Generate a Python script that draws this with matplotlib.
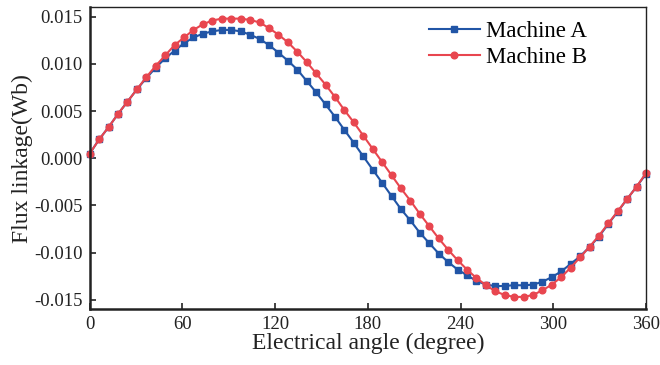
import numpy as np
import matplotlib
matplotlib.use('Agg')
import matplotlib.pyplot as plt

plt.rcParams['font.family'] = ['Liberation Serif', 'DejaVu Serif']

# 60 samples over one electrical period
angle = np.linspace(0, 360, 60)

machine_a = [0.0005, 0.0020, 0.0033, 0.0047, 0.0060, 0.0073, 0.0085, 0.0096, 0.0106, 0.0114,
             0.0122, 0.0128, 0.0132, 0.01345, 0.0136, 0.0136, 0.01345, 0.0131, 0.01265, 0.0120,
             0.0112, 0.01035, 0.0094, 0.0082, 0.0070, 0.0057, 0.0044, 0.0030, 0.00163, 0.0002,
             -0.0012, -0.0026, -0.0040, -0.0054, -0.0066, -0.0079, -0.0090, -0.0101, -0.0110, -0.0118,
             -0.0124, -0.0130, -0.0134, -0.01355, -0.01355, -0.01345, -0.01348, -0.0134, -0.0131, -0.0126,
             -0.0120, -0.0112, -0.0104, -0.0094, -0.0083, -0.00695, -0.00565, -0.0043, -0.0030, -0.00165]

machine_b = [0.0005, 0.0020, 0.0033, 0.0047, 0.0060, 0.0073, 0.0086, 0.0098, 0.0109, 0.0120,
             0.0128, 0.0136, 0.0142, 0.0146, 0.0148, 0.0148, 0.0148, 0.01466, 0.0144, 0.0138,
             0.0131, 0.0123, 0.0113, 0.0102, 0.0090, 0.0078, 0.0065, 0.0051, 0.0038, 0.0024,
             0.0010, -0.0004, -0.0018, -0.0032, -0.0045, -0.0059, -0.0072, -0.0085, -0.0097, -0.0108,
             -0.0118, -0.0127, -0.01345, -0.0141, -0.0145, -0.0147, -0.0147, -0.0145, -0.0140, -0.0134,
             -0.0126, -0.0116, -0.0105, -0.0094, -0.0082, -0.0069, -0.0056, -0.0043, -0.0030, -0.00155]

xticks = [0, 60, 120, 180, 240, 300, 360]
yticks = [-0.015, -0.010, -0.005, 0.000, 0.005, 0.010, 0.015]

fig = plt.figure(figsize=(6.6, 3.65), dpi=100)
ax = fig.add_axes([0.136, 0.153, 0.843, 0.827])

ax.plot(angle, machine_a, color='#2155a6', lw=1.5, marker='s', ms=3.8, label='Machine A', clip_on=False)
ax.plot(angle, machine_b, color='#e8464f', lw=1.5, marker='o', ms=4.8, label='Machine B', clip_on=False)

ax.set_xlim(0, 360)
ax.set_ylim(-0.016, 0.016)
ax.set_xticks(xticks)
ax.set_yticks(yticks)
ax.set_yticklabels(['%.3f' % v for v in yticks])
ax.tick_params(direction='in', length=4, width=1.2, labelsize=13.5, pad=5, colors='#222222')

for s in ['left', 'bottom']:
    ax.spines[s].set_linewidth(1.8)
for s in ['top', 'right']:
    ax.spines[s].set_linewidth(1.0)
for s in ax.spines.values():
    s.set_color('#222222')

ax.set_xlabel('Electrical angle (degree)', fontsize=17, labelpad=0, color='#222222')
ax.set_ylabel('Flux linkage(Wb)', fontsize=17, labelpad=1, color='#222222')

ax.legend(loc='upper left', bbox_to_anchor=(0.61, 0.955), frameon=False, fontsize=16.5,
          numpoints=1, handlelength=2.2, handletextpad=0.3, labelspacing=0.22,
          borderpad=0, borderaxespad=0)

fig.savefig('out.png', dpi=100)
